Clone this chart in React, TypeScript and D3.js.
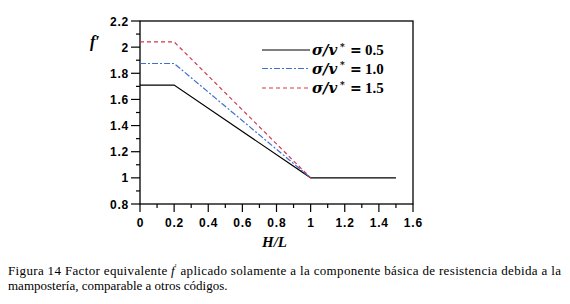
import React from "react";
import * as d3 from "d3";

const xBreaks = [0, 0.2, 1];
const seriesNames = ["0.5", "1.0", "1.5"];
const seriesPlateau = [1.71, 1.875, 2.04];
const blackTailX = [1, 1.5];
const blackTailY = [1, 1];
const xTicks = [0, 0.2, 0.4, 0.6, 0.8, 1, 1.2, 1.4, 1.6];
const yTicks = [0.8, 1, 1.2, 1.4, 1.6, 1.8, 2, 2.2];
const colors = ["#000000", "#3f6fd1", "#d2384f"];
const dashes = ["", "6 2 2 2", "4 3"];

export default function App() {
  const W = 570, H = 304;
  const x = d3.scaleLinear().domain([0, 1.6]).range([140, 413]);
  const y = d3.scaleLinear().domain([0.8, 2.2]).range([204, 21]);
  const line = d3.line<[number, number]>().x(d => x(d[0])).y(d => y(d[1]));

  const minorX = d3.range(0, 1.6001, 0.1);
  const minorY = d3.range(0.8, 2.2001, 0.1);

  const series = seriesPlateau.map((p, i) => {
    const pts: [number, number][] = [[xBreaks[0], p], [xBreaks[1], p], [xBreaks[2], 1]];
    if (i === 0) pts.push([blackTailX[1], blackTailY[1]]);
    return pts;
  });

  const legendY = [50, 68.5, 88];
  const tickFont = { fontFamily: "'Liberation Sans', Arial, sans-serif", fontWeight: 700, fontSize: "12px", letterSpacing: "0.8px" };
  const serif = "'Liberation Serif', 'DejaVu Serif', serif";
  const mathFont = "'DejaVu Serif', 'Liberation Serif', serif";

  return (
    <svg width={W} height={H} style={{ position: "absolute", left: 0, top: 0, background: "#fff" }}>
      <rect x={0} y={0} width={W} height={H} fill="#fff" />
      <rect x={x(0)} y={y(2.2)} width={x(1.6) - x(0)} height={y(0.8) - y(2.2)} fill="none" stroke="#000" strokeWidth={1.3} />
      {minorX.map((v, i) => (
        <line key={"mx" + i} x1={x(v)} x2={x(v)} y1={y(0.8)} y2={y(0.8) + (i % 2 === 0 ? 8 : 4)} stroke="#000" strokeWidth={1.2} />
      ))}
      {minorY.map((v, i) => (
        <line key={"my" + i} x1={x(0)} x2={x(0) - (i % 2 === 0 ? 9 : 4)} y1={y(v)} y2={y(v)} stroke="#000" strokeWidth={1.2} />
      ))}
      {xTicks.map(v => (
        <text key={"xt" + v} x={x(v) + 0.4} y={227} textAnchor="middle" style={tickFont}>{String(v)}</text>
      ))}
      {yTicks.map(v => (
        <text key={"yt" + v} x={129} y={y(v) + 4.5} textAnchor="end" style={tickFont}>{String(Math.round(v * 10) / 10)}</text>
      ))}
      <text x={90} y={47} style={{ fontFamily: serif, fontStyle: "italic", fontWeight: 700, fontSize: "16px" }}>f′</text>
      <text x={262} y={247} style={{ fontFamily: serif, fontStyle: "italic", fontWeight: 700, fontSize: "15px" }}>H/L</text>
      {series.map((pts, i) => (
        <path key={"s" + i} d={line(pts) || ""} fill="none" stroke={colors[i]} strokeWidth={1.2} strokeDasharray={dashes[i]} />
      ))}
      {seriesNames.map((n, i) => (
        <g key={"lg" + i}>
          <line x1={262} x2={310} y1={legendY[i]} y2={legendY[i]} stroke={colors[i]} strokeWidth={1.2} strokeDasharray={dashes[i]} />
          <text x={312} y={legendY[i] + 5} style={{ fontFamily: mathFont, fontStyle: "italic", fontWeight: 700, fontSize: "15px" }}>σ/v</text>
          <text x={340} y={legendY[i] - 0.5} style={{ fontFamily: mathFont, fontWeight: 700, fontSize: "9px" }}>*</text>
          <text x={350} y={legendY[i] + 5} style={{ fontFamily: mathFont, fontWeight: 700, fontSize: "14px" }}>=</text>
          <text x={365} y={legendY[i] + 5} style={{ fontFamily: serif, fontWeight: 700, fontSize: "15px" }}>{n}</text>
        </g>
      ))}
      <text x={8} y={275} textLength={553} lengthAdjust="spacing" style={{ fontFamily: serif, fontSize: "13px" }}>
        Figura 14 Factor equivalente <tspan style={{ fontStyle: "italic" }}>f</tspan><tspan style={{ fontSize: "8px" }} dy={-5}>'</tspan><tspan dy={5}> aplicado solamente a la componente básica de resistencia debida a la</tspan>
      </text>
      <text x={8} y={290} style={{ fontFamily: serif, fontSize: "13px" }}>mampostería, comparable a otros códigos.</text>
    </svg>
  );
}
